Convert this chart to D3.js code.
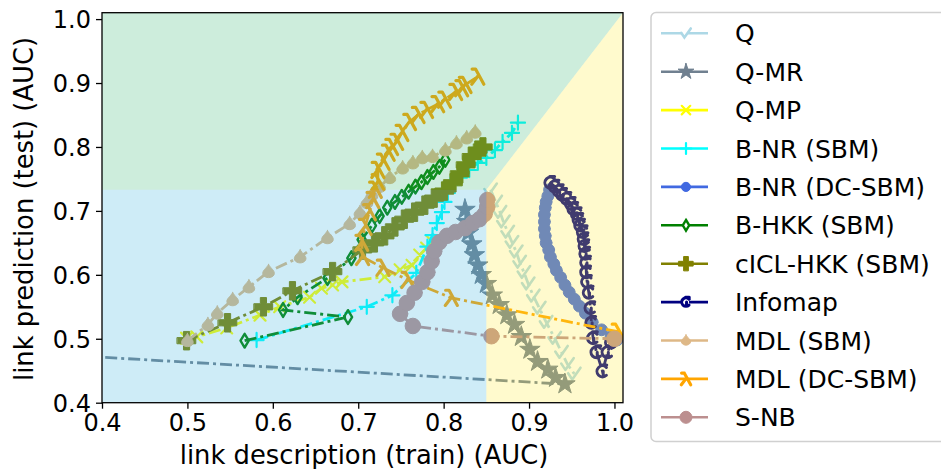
<!DOCTYPE html>
<html><head><meta charset="utf-8">
<script src="https://cdn.jsdelivr.net/npm/d3@7"></script>
<style>body{margin:0;background:#fff}svg{display:block}text{font-family:"DejaVu Sans",sans-serif;fill:#000}</style>
</head><body><svg id="c" width="941" height="469"></svg>
<script>
// ---- data ----
const seriesNames = ["Q","Q-MR","Q-MP","B-NR (SBM)","B-NR (DC-SBM)","B-HKK (SBM)","cICL-HKK (SBM)","Infomap","MDL (SBM)","MDL (DC-SBM)","S-NB"];
const seriesColors = ["#add8e6","#708090","#ffff00","#00ffff","#4169e1","#008000","#808000","#000080","#deb887","#ffa500","#bc8f8f"];

const qX = [0.855,0.861,0.866,0.870,0.875,0.880,0.885,0.889,0.894,0.899,0.905,0.912,0.920,0.930,0.938,0.945,0.953];
const qY = [0.733,0.714,0.698,0.683,0.667,0.651,0.636,0.620,0.604,0.586,0.567,0.548,0.526,0.501,0.479,0.460,0.445];

const qmrX = [0.35,0.942,0.931,0.922,0.910,0.901,0.891,0.883,0.874,0.865,0.857,0.850,0.844,0.840,0.836,0.833,0.829,0.827,0.825];
const qmrY = [0.475,0.429,0.439,0.452,0.464,0.483,0.503,0.522,0.537,0.553,0.568,0.586,0.600,0.615,0.631,0.648,0.666,0.683,0.702];

const qmpX = [0.499,0.511,0.546,0.585,0.608,0.643,0.657,0.670,0.681,0.731,0.749,0.763,0.772,0.780,0.786];
const qmpY = [0.501,0.503,0.517,0.537,0.550,0.565,0.579,0.584,0.589,0.597,0.608,0.615,0.631,0.642,0.653];

const bnrX = [0.581,0.710,0.740,0.768,0.781,0.787,0.792,0.798,0.801,0.805,0.808,0.819,0.830,0.840,0.850,0.860,0.869,0.880,0.887];
const bnrY = [0.498,0.550,0.568,0.603,0.644,0.662,0.681,0.698,0.714,0.728,0.741,0.752,0.764,0.775,0.783,0.795,0.808,0.822,0.838];

const bnrdcX = [0.924,0.922,0.920,0.919,0.918,0.918,0.918,0.919,0.920,0.923,0.925,0.929,0.932,0.937,0.942,0.947,0.953,0.959,0.966,0.974,0.985,0.996,1.003];
const bnrdcY = [0.733,0.723,0.714,0.705,0.694,0.683,0.672,0.661,0.650,0.639,0.628,0.617,0.607,0.596,0.584,0.573,0.562,0.551,0.540,0.526,0.514,0.503,0.498];

const bhkkX = [0.567,0.688,0.612,0.629,0.664,0.692,0.704,0.716,0.725,0.734,0.743,0.751,0.759,0.767,0.774,0.781,0.788,0.795,0.802];
const bhkkY = [0.497,0.534,0.545,0.565,0.595,0.626,0.655,0.677,0.692,0.705,0.714,0.722,0.730,0.738,0.745,0.753,0.761,0.769,0.780];

const ciclX = [0.499,0.547,0.589,0.623,0.670,0.705,0.719,0.731,0.743,0.754,0.766,0.778,0.789,0.801,0.811,0.819,0.826,0.833,0.840,0.846];
const ciclY = [0.497,0.525,0.550,0.575,0.605,0.639,0.650,0.661,0.675,0.687,0.698,0.709,0.720,0.731,0.744,0.758,0.772,0.785,0.795,0.800];

const infoX = [0.925,0.930,0.935,0.939,0.944,0.949,0.952,0.956,0.958,0.960,0.963,0.964,0.965,0.966,0.967,0.967,0.968,0.970,0.972,0.973,0.975,0.979,0.986,0.992,0.996];
const infoY = [0.744,0.738,0.731,0.725,0.719,0.711,0.703,0.695,0.686,0.677,0.667,0.656,0.645,0.633,0.619,0.604,0.589,0.572,0.548,0.525,0.501,0.479,0.449,0.479,0.494];

const mdlX = [0.500,0.524,0.535,0.553,0.572,0.595,0.632,0.664,0.690,0.702,0.710,0.716,0.725,0.737,0.752,0.764,0.775,0.787,0.802,0.815,0.827,0.837];
const mdlY = [0.497,0.522,0.540,0.561,0.581,0.605,0.628,0.658,0.680,0.697,0.713,0.725,0.738,0.752,0.767,0.775,0.783,0.785,0.795,0.806,0.814,0.823];

const mdldcX = [1.004,0.809,0.758,0.729,0.705,0.704,0.708,0.713,0.717,0.720,0.723,0.723,0.729,0.735,0.739,0.745,0.751,0.760,0.770,0.780,0.793,0.801,0.814,0.821,0.825,0.840];
const mdldcY = [0.511,0.564,0.592,0.611,0.628,0.650,0.675,0.698,0.717,0.733,0.745,0.764,0.777,0.791,0.800,0.808,0.822,0.839,0.850,0.858,0.867,0.874,0.886,0.892,0.897,0.910];

const snbX = [1.000,0.856,0.764,0.749,0.757,0.766,0.775,0.781,0.786,0.789,0.795,0.804,0.814,0.825,0.834,0.842,0.848,0.851,0.851];
const snbY = [0.500,0.504,0.520,0.539,0.556,0.572,0.589,0.604,0.621,0.637,0.651,0.661,0.667,0.673,0.681,0.687,0.695,0.706,0.717];

const xTicks = [0.4,0.5,0.6,0.7,0.8,0.9,1.0];
const yTicks = [0.4,0.5,0.6,0.7,0.8,0.9,1.0];
const xDomain = [0.4,1.01], yDomain = [0.4,1.01];
const regionTrainCut = 0.85, regionTestCut = 0.733;
const regionColors = ["#37b773","#3bb3df","#ffeb37"]; // green, blue, yellow overlays

// ---- marker types ----
const R = s => Math.sqrt(s)/2;
const checkT = {draw(c,s){const r=R(s);c.moveTo(-r*0.9,-r*0.1);c.lineTo(-r*0.3,r*0.8);c.lineTo(r*0.9,-r*0.9);}};
const xT = {draw(c,s){const r=R(s)*0.8;c.moveTo(-r,-r);c.lineTo(r,r);c.moveTo(-r,r);c.lineTo(r,-r);}};
const plusT = {draw(c,s){const r=R(s);c.moveTo(-r,0);c.lineTo(r,0);c.moveTo(0,-r);c.lineTo(0,r);}};
const thinDiamondT = {draw(c,s){const r=R(s);c.moveTo(0,-r);c.lineTo(r*0.6,0);c.lineTo(0,r);c.lineTo(-r*0.6,0);c.closePath();}};
const lambdaT = {draw(c,s){const r=R(s);c.moveTo(-r*0.8,r);c.lineTo(0,-r*0.05);c.moveTo(-r*0.75,-r);c.lineTo(-r*0.3,-r);c.lineTo(r*0.8,r);}};
const hookT = {draw(c,s){const r=R(s);c.moveTo(r*0.55,-r*0.55);c.arc(0,0,r*0.78,-Math.PI/4,Math.PI/4,true);c.moveTo(r*0.1,0);c.lineTo(r*0.1,r*0.5);c.moveTo(-r*0.1,-r*0.9);c.lineTo(r*0.6,-r*0.9);}};
const spadeT = {draw(c,s){const r=R(s);c.moveTo(0,-r);c.bezierCurveTo(r*0.3,-r*0.4,r,-r*0.1,r*0.75,r*0.45);c.bezierCurveTo(r*0.45,r*0.95,-r*0.45,r*0.95,-r*0.75,r*0.45);c.bezierCurveTo(-r,-r*0.1,-r*0.3,-r*0.4,0,-r);c.closePath();}};

const series = [
  {x:qX,y:qY,type:checkT,size:190,filled:false,sw:2.6},
  {x:qmrX,y:qmrY,type:d3.symbolStar,size:130,filled:true,sw:1},
  {x:qmpX,y:qmpY,type:xT,size:190,filled:false,sw:2.2},
  {x:bnrX,y:bnrY,type:plusT,size:200,filled:false,sw:2.2},
  {x:bnrdcX,y:bnrdcY,type:d3.symbolCircle,size:110,filled:true,sw:1},
  {x:bhkkX,y:bhkkY,type:thinDiamondT,size:190,filled:false,sw:2.4},
  {x:ciclX,y:ciclY,type:d3.symbolCross,size:190,filled:true,sw:1},
  {x:infoX,y:infoY,type:hookT,size:200,filled:false,sw:3},
  {x:mdlX,y:mdlY,type:spadeT,size:210,filled:true,sw:1},
  {x:mdldcX,y:mdldcY,type:lambdaT,size:230,filled:false,sw:3.2},
  {x:snbX,y:snbY,type:d3.symbolCircle,size:190,filled:true,sw:1}
].map((s,i)=>Object.assign(s,{name:seriesNames[i],color:seriesColors[i]}));

// ---- layout ----
const svg = d3.select("#c");
const xs = d3.scaleLinear(xDomain,[102,623]);
const ys = d3.scaleLinear(yDomain,[402.7,12.7]);

svg.append("defs").append("clipPath").attr("id","clip")
  .append("rect").attr("x",xs(xDomain[0])).attr("y",ys(yDomain[1]))
  .attr("width",xs(xDomain[1])-xs(xDomain[0])).attr("height",ys(yDomain[0])-ys(yDomain[1]));

const plot = svg.append("g").attr("clip-path","url(#clip)");
const line = d3.line();

series.forEach(s=>{
  const pts = s.x.map((v,i)=>[xs(v),ys(s.y[i])]);
  const g = plot.append("g");
  g.append("path").attr("d",line(pts)).attr("fill","none").attr("stroke",s.color)
    .attr("stroke-width",2.8).attr("stroke-dasharray","12,4,3,4");
  const sym = d3.symbol().type(s.type).size(s.size);
  g.selectAll("path.m").data(pts).join("path").attr("class","m")
    .attr("transform",d=>`translate(${d[0]},${d[1]})`).attr("d",sym())
    .attr("fill",s.filled?s.color:"none").attr("stroke",s.color).attr("stroke-width",s.sw)
    .attr("stroke-linecap","round").attr("stroke-linejoin","round");
});

// translucent region overlays (drawn on top of the data)
const regions = [
  [[xDomain[0],regionTestCut],[regionTrainCut,regionTestCut],[xDomain[1],yDomain[1]],[xDomain[0],yDomain[1]]],
  [[xDomain[0],yDomain[0]],[regionTrainCut,yDomain[0]],[regionTrainCut,regionTestCut],[xDomain[0],regionTestCut]],
  [[regionTrainCut,yDomain[0]],[xDomain[1],yDomain[0]],[xDomain[1],yDomain[1]],[regionTrainCut,regionTestCut]]
];
plot.selectAll("polygon.reg").data(regions).join("polygon").attr("class","reg")
  .attr("points",d=>d.map(p=>[xs(p[0]),ys(p[1])].join(",")).join(" "))
  .attr("fill",(d,i)=>regionColors[i]).attr("fill-opacity",0.25);

// frame
svg.append("rect").attr("x",xs(xDomain[0])).attr("y",ys(yDomain[1]))
  .attr("width",xs(xDomain[1])-xs(xDomain[0])).attr("height",ys(yDomain[0])-ys(yDomain[1]))
  .attr("fill","none").attr("stroke","#000").attr("stroke-width",1.3);

// axes
const fmt = d3.format(".1f");
const xa = svg.append("g").attr("transform",`translate(0,${ys(yDomain[0])})`)
  .call(d3.axisBottom(xs).tickValues(xTicks).tickFormat(fmt).tickSize(6).tickPadding(5));
const ya = svg.append("g").attr("transform",`translate(${xs(xDomain[0])},0)`)
  .call(d3.axisLeft(ys).tickValues(yTicks).tickFormat(fmt).tickSize(6).tickPadding(5));
[xa,ya].forEach(a=>{a.select(".domain").remove();
  a.selectAll(".tick line").attr("stroke","#000").attr("stroke-width",1.3);
  a.selectAll(".tick text").attr("font-size",24).attr("font-family","DejaVu Sans").attr("fill","#000");});
ya.selectAll(".tick text").attr("dy","0.36em");

svg.append("text").attr("x",364).attr("y",464).attr("text-anchor","middle").attr("font-size",25.8)
  .text("link description (train) (AUC)");
svg.append("text").attr("transform","translate(33,209) rotate(-90)").attr("text-anchor","middle").attr("font-size",25.8)
  .text("link prediction (test) (AUC)");

// legend
const lg = svg.append("g");
lg.append("rect").attr("x",651).attr("y",12.5).attr("width",330).attr("height",429).attr("rx",5)
  .attr("fill","#fff").attr("stroke","#d0d0d0").attr("stroke-width",1.5);
const rows = lg.selectAll("g.row").data(series).join("g").attr("class","row")
  .attr("transform",(d,i)=>`translate(0,${33.3+i*38.4})`);
rows.append("line").attr("x1",661).attr("x2",708).attr("stroke",d=>d.color).attr("stroke-width",2.6);
rows.append("path").attr("transform","translate(686,0)")
  .attr("d",d=>d3.symbol().type(d.type).size(d.size*0.6)())
  .attr("fill",d=>d.filled?d.color:"#fff").attr("stroke",d=>d.color).attr("stroke-width",d=>d.sw)
  .attr("stroke-linecap","round");
rows.append("text").attr("x",735).attr("y",0).attr("dy","0.36em").attr("font-size",25).text(d=>d.name);
</script></body></html>
